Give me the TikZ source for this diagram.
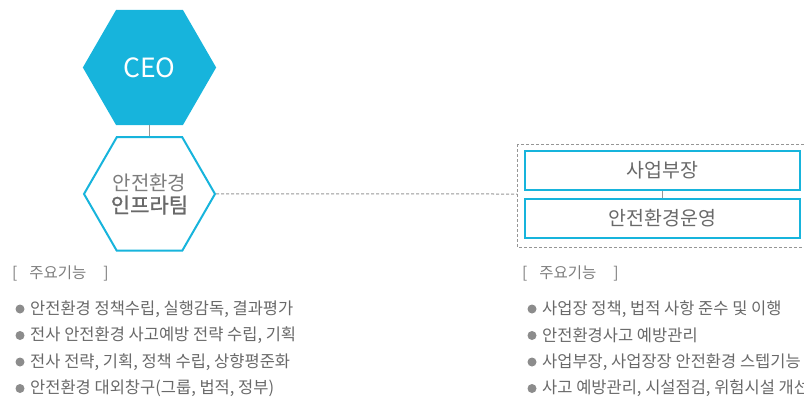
\documentclass[tikz,border=0pt]{standalone}
\usepackage{fontspec}
\setmainfont{Noto Sans CJK KR}
\newfontfamily\medfont[FakeBold=1.2]{Noto Sans CJK KR}
\usepackage{tikz}
\usetikzlibrary{positioning}
\usetikzlibrary{shapes}
\definecolor{teamcyan}{RGB}{23,180,220}
\definecolor{textgray}{RGB}{105,105,105}
\definecolor{headgray}{RGB}{125,125,125}
\definecolor{dotgray}{RGB}{140,140,140}
\definecolor{linegray}{RGB}{150,150,150}

\begin{document}
\begin{tikzpicture}[x=1pt,y=-1pt,
  hex node/.style={regular polygon,regular polygon sides=6,minimum size=131pt,inner sep=0pt,line width=2pt,draw=teamcyan},
  unit box/.style={rectangle,draw=teamcyan,line width=2pt,fill=white,minimum width=275pt,minimum height=39pt,font=\fontsize{19.5}{22}\selectfont,text=textgray},
  head text/.style={anchor=west,inner sep=0pt,font=\fontsize{15.5}{18}\selectfont,text=headgray},
  item text/.style={anchor=west,inner sep=0pt,font=\fontsize{16.5}{19}\selectfont,text=textgray},
  dot/.style={circle,fill=dotgray,inner sep=0pt,minimum size=9pt},
  link/.style={draw=linegray,line width=0.8pt},
  dashed link/.style={draw=linegray,line width=1pt,dash pattern=on 3pt off 2pt}]
  \useasboundingbox (0,0) rectangle (804,399);
  \clip (0,0) rectangle (804,399);

  % hexagons
  \node[hex node,fill=teamcyan,text=white,font=\fontsize{26.5}{30}\selectfont] (ceo) at (149.5,67.5) {CEO};
  \node[hex node,fill=white,align=center,below=11pt of ceo] (infra) {{\fontsize{20}{27}\selectfont\color{headgray}안전환경}\\[3pt]{\fontsize{21}{25}\selectfont\medfont\color{textgray}인프라팀}};

  % business units
  \draw[dashed link] (517,144) rectangle (830,247);
  \coordinate (frame) at (517,194);
  \node[unit box] (biz) at (662.5,170.5) {사업부장};
  \node[unit box,below=7pt of biz] (ops) {안전환경운영};

  \path[link] (ceo) -- (infra)
              (biz) -- (ops);
  \path[dashed link] (infra.east) -- (frame);

  % functions
  \node[head text] (lhead) at (12,273) {[\hspace{12pt}주요기능\hspace{17pt}]};
  \node[head text] (rhead) at (522,273) {[\hspace{12pt}주요기능\hspace{17pt}]};
  \foreach \y/\txt [count=\i] in {309/{안전환경 정책수립, 실행감독, 결과평가},335.5/{전사 안전환경 사고예방 전략 수립, 기획},362/{전사 전략, 기획, 정책 수립, 상향평준화},388.5/{안전환경 대외창구(그룹, 법적, 정부)}}
  {
    \node[dot] (ldot\i) at (20,\y) {};
    \node[item text] (l\i) at (30,\y) {\txt};
  }
  \foreach \y/\txt [count=\i] in {309/{사업장 정책, 법적 사항 준수 및 이행},335.5/{안전환경사고 예방관리},362/{사업부장, 사업장장 안전환경 스텝기능},388.5/{사고 예방관리, 시설점검, 위험시설 개선}}
  {
    \node[dot] (rdot\i) at (532,\y) {};
    \node[item text] (r\i) at (542,\y) {\txt};
  }
\end{tikzpicture}
\end{document}
